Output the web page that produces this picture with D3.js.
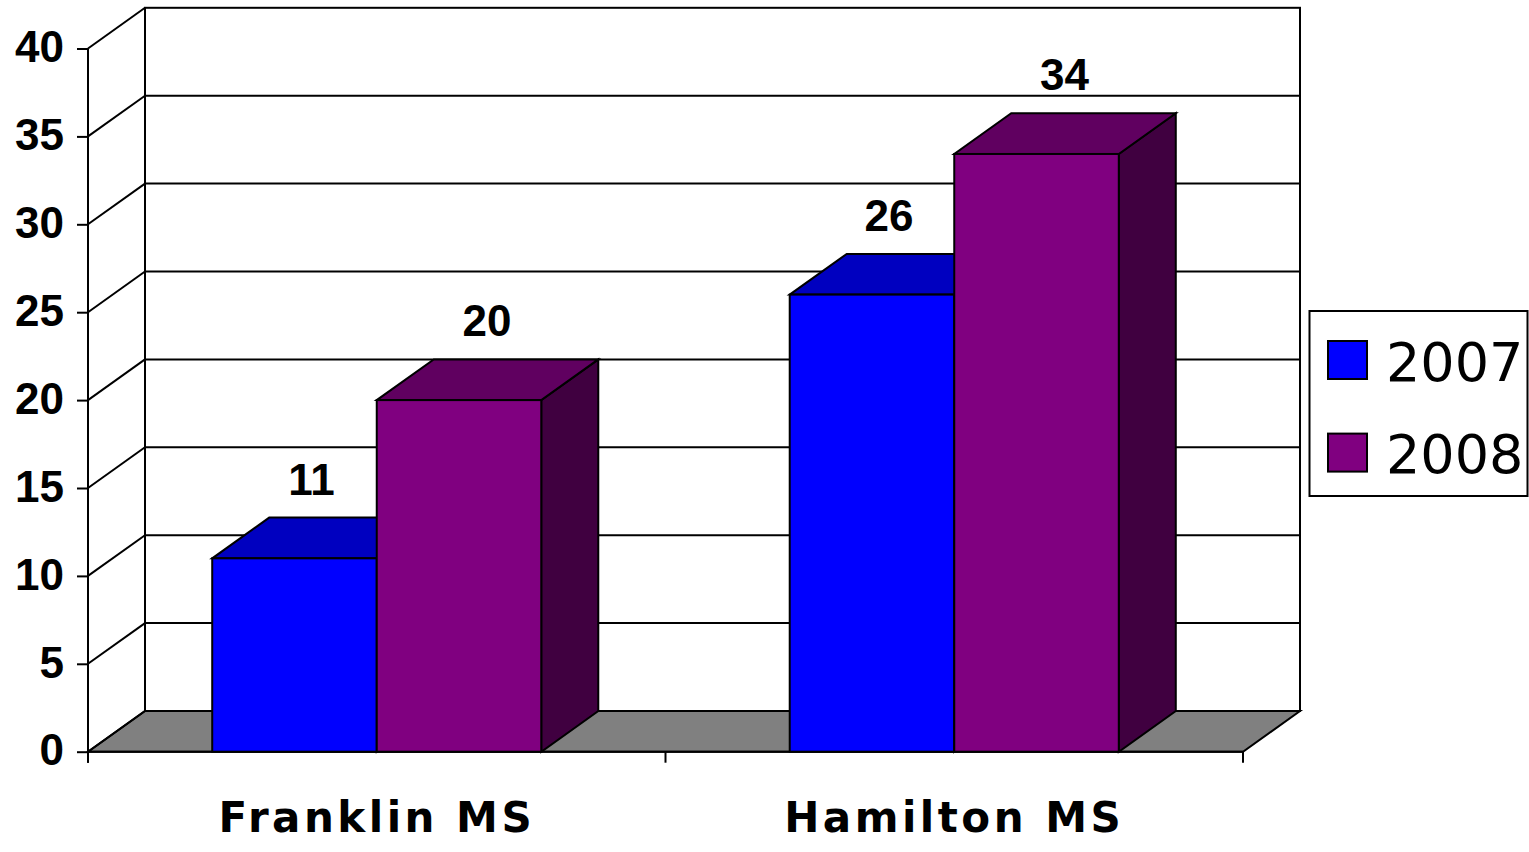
<!DOCTYPE html>
<html>
<head>
<meta charset="utf-8">
<script src="https://cdn.jsdelivr.net/npm/d3@7"></script>
<style>
  html, body { margin: 0; padding: 0; background: #fff; }
  svg { display: block; }
</style>
</head>
<body>
<svg id="chart" width="1529" height="852"></svg>
<script>
// Chart data
const categories = ["Franklin MS", "Hamilton MS"];
const seriesNames = ["2007", "2008"];
const values2007 = [11, 26];
const values2008 = [20, 34];
const yTicks = [0, 5, 10, 15, 20, 25, 30, 35, 40];

const seriesValues = [values2007, values2008];
const frontColor = ["#0000FF", "#800080"];
const topColor = ["#0000C0", "#600060"];
const sideColor = ["#0000A0", "#400040"];
const numberFont = "'Liberation Sans', Arial, sans-serif";
const textFont = "'DejaVu Sans', 'Noto Sans', sans-serif";

// Oblique 3D geometry: front plane vs. back wall offset
const depthX = 57, depthY = -40.7;

const svg = d3.select("#chart");

const y = d3.scaleLinear().domain([0, 40]).range([751.7, 48.5]);
const x = d3.scaleBand().domain(categories).range([88, 1243]);
const xs = d3.scaleBand().domain(seriesNames).range([0, x.bandwidth()]).paddingInner(0).paddingOuter(0.755);

const pt = (px, py) => `${px},${py}`;
const y0 = y(0), yTop = y(40);
const xL = x.range()[0], xR = x.range()[1];

const g = svg.append("g").attr("stroke-linejoin", "miter");

// Floor
g.append("polygon")
  .attr("points", [pt(xL, y0), pt(xR, y0), pt(xR + depthX, y0 + depthY), pt(xL + depthX, y0 + depthY)].join(" "))
  .attr("fill", "#808080").attr("stroke", "#000").attr("stroke-width", 2);

// Back wall
g.append("rect")
  .attr("x", xL + depthX).attr("y", yTop + depthY)
  .attr("width", xR - xL).attr("height", y0 - yTop)
  .attr("fill", "none").attr("stroke", "#000").attr("stroke-width", 2);

// Back wall gridlines and side wall diagonals
yTicks.forEach(t => {
  const yy = y(t);
  if (t > 0 && t < 40) {
    g.append("line")
      .attr("x1", xL + depthX).attr("x2", xR + depthX)
      .attr("y1", yy + depthY).attr("y2", yy + depthY)
      .attr("stroke", "#000").attr("stroke-width", 2);
  }
  g.append("line")
    .attr("x1", xL).attr("y1", yy)
    .attr("x2", xL + depthX).attr("y2", yy + depthY)
    .attr("stroke", "#000").attr("stroke-width", 2);
});

// Value axis
const yAxis = d3.axisLeft(y).tickValues(yTicks).tickSize(11).tickPadding(10).tickFormat(d3.format("d"));
const ya = svg.append("g").attr("transform", `translate(${xL},0)`).call(yAxis);
ya.select(".domain").remove();
ya.selectAll(".tick line").attr("stroke", "#000").attr("stroke-width", 2);
ya.selectAll(".tick text")
  .style("font-family", numberFont).style("font-size", "44px").style("font-weight", "bold")
  .attr("fill", "#000")
  .attr("x", -24).attr("dy", "0.3em");
svg.append("line").attr("x1", xL).attr("x2", xL).attr("y1", yTop).attr("y2", y0 + 11)
  .attr("stroke", "#000").attr("stroke-width", 2);

// Category axis (front floor edge with ticks at band boundaries)
svg.append("line").attr("x1", xL).attr("x2", xR).attr("y1", y0).attr("y2", y0)
  .attr("stroke", "#000").attr("stroke-width", 2);
const bandEdges = [xL, ...categories.slice(1).map(c => x(c)), xR];
bandEdges.forEach(bx => {
  svg.append("line").attr("x1", bx).attr("x2", bx).attr("y1", y0).attr("y2", y0 + 11)
    .attr("stroke", "#000").attr("stroke-width", 2);
});
svg.append("g").selectAll("text").data(categories).join("text")
  .attr("x", d => x(d) + x.bandwidth() / 2)
  .attr("y", 832)
  .attr("text-anchor", "middle")
  .style("font-family", textFont).style("font-size", "42px").style("font-weight", "bold")
  .style("letter-spacing", "3.5px")
  .text(d => d);

// Bars
const bars = svg.append("g");
const labelShift = [17, 28];
categories.forEach((cat, ci) => {
  seriesNames.forEach((s, si) => {
    const v = seriesValues[si][ci];
    const x0 = x(cat) + xs(s), x1 = x0 + xs.bandwidth();
    const yt = y(v);
    // right side
    bars.append("polygon")
      .attr("points", [pt(x1, y0), pt(x1, yt), pt(x1 + depthX, yt + depthY), pt(x1 + depthX, y0 + depthY)].join(" "))
      .attr("fill", sideColor[si]).attr("stroke", "#000").attr("stroke-width", 2);
    // top
    bars.append("polygon")
      .attr("points", [pt(x0, yt), pt(x1, yt), pt(x1 + depthX, yt + depthY), pt(x0 + depthX, yt + depthY)].join(" "))
      .attr("fill", topColor[si]).attr("stroke", "#000").attr("stroke-width", 2);
    // front
    bars.append("rect")
      .attr("x", x0).attr("y", yt).attr("width", x1 - x0).attr("height", y0 - yt)
      .attr("fill", frontColor[si]).attr("stroke", "#000").attr("stroke-width", 2);
    // value label
    bars.append("text")
      .attr("x", (x0 + x1) / 2 + labelShift[si])
      .attr("y", yt + depthY - 23)
      .attr("text-anchor", "middle")
      .style("font-family", numberFont).style("font-size", "44px").style("font-weight", "bold")
      .text(v);
  });
});

// Legend
const legend = svg.append("g");
legend.append("rect").attr("x", 1309.5).attr("y", 311).attr("width", 218).attr("height", 185)
  .attr("fill", "#fff").attr("stroke", "#000").attr("stroke-width", 2);
seriesNames.forEach((s, si) => {
  const ly = 341 + si * 92.6;
  legend.append("rect").attr("x", 1328).attr("y", ly).attr("width", 39).attr("height", 38)
    .attr("fill", frontColor[si]).attr("stroke", "#000").attr("stroke-width", 2);
  legend.append("text").attr("x", 1386).attr("y", ly + 39.5)
    .style("font-family", textFont).style("font-size", "54px")
    .text(s);
});
</script>
</body>
</html>
